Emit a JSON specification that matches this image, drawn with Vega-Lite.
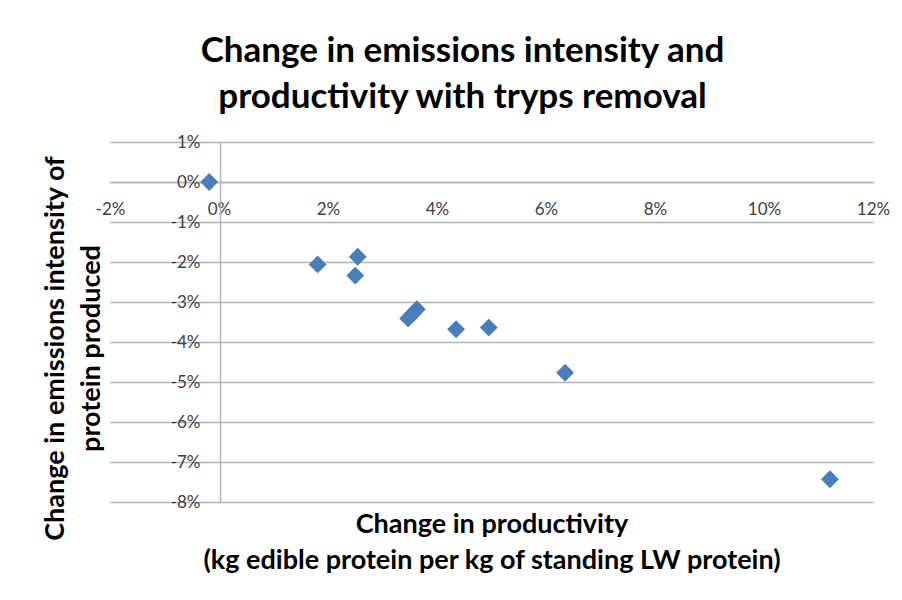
{
  "$schema": "https://vega.github.io/schema/vega-lite/v6.json",
  "autosize": {"type": "none"},
  "width": 763,
  "height": 360,
  "padding": {"left": 110, "top": 142, "right": 29, "bottom": 98},
  "background": "white",
  "config": {
    "view": {"stroke": null},
    "font": "Lato"
  },
  "title": {
    "text": ["Change in emissions intensity and", "productivity with tryps removal"],
    "font": "Lato",
    "fontSize": 35,
    "fontWeight": "bold",
    "color": "#000000",
    "anchor": "middle",
    "dx": -29,
    "offset": 18,
    "lineHeight": 46
  },
  "data": {
    "values": [
      {"productivity": -0.18, "intensity": 0.0},
      {"productivity": 1.81, "intensity": -2.06},
      {"productivity": 2.545, "intensity": -1.87},
      {"productivity": 2.5, "intensity": -2.34},
      {"productivity": 3.47, "intensity": -3.41},
      {"productivity": 3.55, "intensity": -3.3},
      {"productivity": 3.63, "intensity": -3.18},
      {"productivity": 4.35, "intensity": -3.68},
      {"productivity": 4.95, "intensity": -3.64},
      {"productivity": 6.35, "intensity": -4.77},
      {"productivity": 11.21, "intensity": -7.43}
    ]
  },
  "mark": {"type": "point", "shape": "diamond", "filled": true, "size": 320, "color": "#4A7EBB", "opacity": 1, "strokeWidth": 0},
  "encoding": {
    "x": {
      "field": "productivity",
      "type": "quantitative",
      "scale": {"domain": [-2, 12], "nice": false, "zero": false},
      "axis": {
        "orient": "bottom",
        "offset": -320,
        "values": [-2, 0, 2, 4, 6, 8, 10, 12],
        "labelExpr": "datum.value + '%'",
        "grid": false,
        "ticks": false,
        "tickSize": 0,
        "domain": true,
        "domainColor": "#b4b4b4",
        "domainWidth": 1.5,
        "labelFont": "Lato",
        "labelFontSize": 17,
        "labelColor": "#404040",
        "labelPadding": 19,
        "labelBaseline": "top",
        "labelFlush": false,
        "labelOverlap": false,
        "title": ["Change in productivity", "(kg edible protein per kg of standing LW protein)"],
        "titleFont": "Lato",
        "titleFontSize": 27,
        "titleFontWeight": "bold",
        "titleColor": "#000000",
        "titleBaseline": "top",
        "titleLineHeight": 36,
        "titleY": 329
      }
    },
    "y": {
      "field": "intensity",
      "type": "quantitative",
      "scale": {"domain": [-8, 1], "nice": false, "zero": false},
      "axis": {
        "orient": "left",
        "offset": -110,
        "values": [-8, -7, -6, -5, -4, -3, -2, -1, 0, 1],
        "labelExpr": "datum.value + '%'",
        "grid": true,
        "gridColor": "#b4b4b4",
        "gridWidth": 1.5,
        "ticks": false,
        "tickSize": 0,
        "domain": true,
        "domainColor": "#b4b4b4",
        "domainWidth": 1.5,
        "labelFont": "Lato",
        "labelFontSize": 17,
        "labelColor": "#404040",
        "labelPadding": 20,
        "labelBaseline": "middle",
        "labelFlush": false,
        "labelOverlap": false,
        "title": ["Change in emissions intensity of", "protein produced"],
        "titleFont": "Lato",
        "titleFontSize": 27,
        "titleFontWeight": "bold",
        "titleColor": "#000000",
        "titleAngle": -90,
        "titleAlign": "center",
        "titleBaseline": "top",
        "titleLineHeight": 36,
        "titleX": -178,
        "titleY": 206
      }
    }
  }
}
